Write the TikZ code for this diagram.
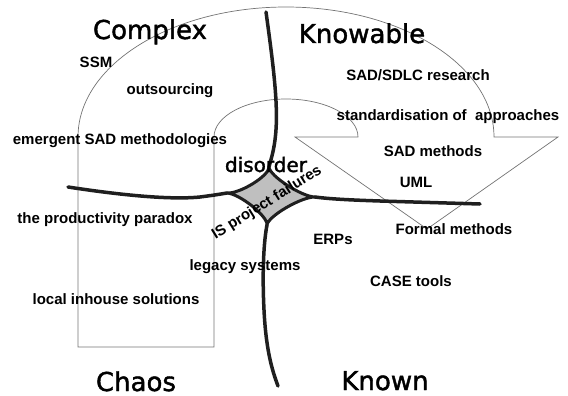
\documentclass[tikz,border=0pt]{standalone}
\usepackage{fontspec}
\setmainfont{Liberation Sans}
\newfontfamily\domainfont[FakeBold=1.6]{DejaVu Sans}
\usetikzlibrary{calc}

\begin{document}
\begin{tikzpicture}[x=1pt,y=-1pt,
    item/.style={font=\bfseries\fontsize{15}{18}\selectfont, inner sep=0pt},
    domainname/.style={font=\domainfont\fontsize{26}{30}\selectfont, inner sep=0pt, anchor=base},
    outline/.style={draw=black!55, line width=0.7pt},
    border/.style={draw=black!88, line width=3.5pt, line cap=round, line join=round}]

    \useasboundingbox (0,0) rectangle (568,396);

    % big turning arrow behind everything
        \draw[outline] (78,347) -- (78,137)
            arc[start angle=180, end angle=360, x radius=208, y radius=130]
            -- (558,137) -- (427,229) -- (295,137) -- (358,137)
            arc[start angle=0, end angle=-180, x radius=72, y radius=38]
            -- (214,347) -- cycle;

    % tips of the disorder patch
        \coordinate (C) at (270,196);
        \coordinate (L) at (227,193);
        \coordinate (T) at (269,167);
        \coordinate (R) at (315,197);
        \coordinate (B) at (267,225);

    % disorder patch
        \filldraw[border, line width=3pt, fill=black!25]
            (L) .. controls ($(L)!0.3!(C)$) and ($(T)!0.3!(C)$) .. (T)
                .. controls ($(T)!0.3!(C)$) and ($(R)!0.3!(C)$) .. (R)
                .. controls ($(R)!0.3!(C)$) and ($(B)!0.3!(C)$) .. (B)
                .. controls ($(B)!0.3!(C)$) and ($(L)!0.3!(C)$) .. (L) -- cycle;

    % boundaries between the domains
        \coordinate (top) at (266,12);
        \coordinate (left) at (68,187);
        \coordinate (right) at (480,204);
        \coordinate (bottom) at (278,386);
        \draw[border] (top) .. controls (274,70) and (279,110) .. (275,140)
            .. controls (273,155) and (270,162) .. (T);
        \draw[border] (left) .. controls (120,195) and (170,200) .. (200,197)
            .. controls (215,195) .. (L);
        \draw[border] (R) .. controls (330,199) and (350,200) .. (380,201) -- (right);
        \draw[border] (B) .. controls (264,240) and (262,270) .. (264,310)
            .. controls (266,350) and (272,370) .. (bottom);

    % domain names
        \node[domainname] (complex) at (150,39) {Complex};
        \node[domainname] (knowable) at (362,43) {Knowable};
        \node[domainname] (chaos) at (136,391) {Chaos};
        \node[domainname] (known) at (385,390) {Known};
        \node[domainname, font=\domainfont\fontsize{20}{24}\selectfont] (disorder) at (266,172) {disorder};

    % complex
        \node[item] (ssm) at (96,62) {SSM};
        \node[item] (outsourcing) at (170,91) {outsourcing};
        \node[item] (emergent) at (120,141) {emergent SAD methodologies};

    % knowable
        \node[item] (research) at (418,75) {SAD/SDLC research};
        \node[item] (standard) at (448,117) {standardisation of\ \ approaches};
        \node[item] (sadmethods) at (433,151) {SAD methods};
        \node[item] (uml) at (416,182) {UML};

    % chaos
        \node[item] (paradox) at (105,220) {the productivity paradox};
        \node[item] (inhouse) at (116,299) {local inhouse solutions};
        \node[item] (legacy) at (245,267) {legacy systems};

    % known
        \node[item] (erps) at (333,239) {ERPs};
        \node[item] (formal) at (454,229) {Formal methods};
        \node[item] (case) at (411,281) {CASE tools};

    % disorder
        \node[item, rotate=32] (failures) at (267,203) {IS project failures};

\end{tikzpicture}
\end{document}
